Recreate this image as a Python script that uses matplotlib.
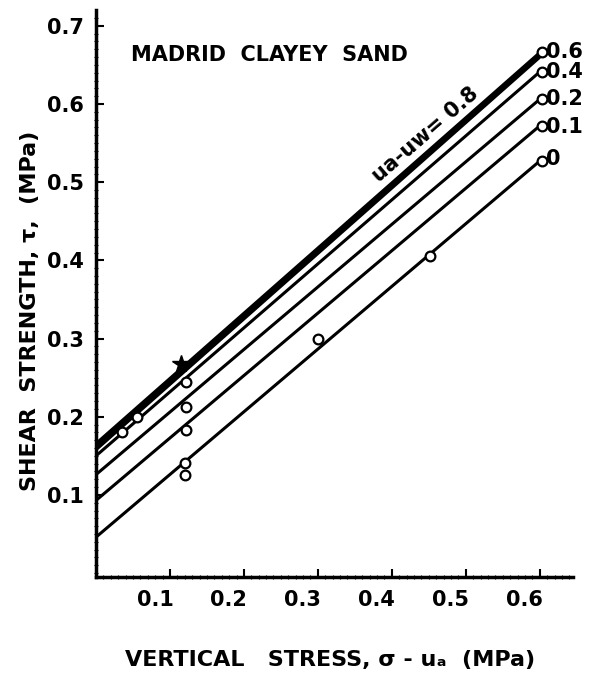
import matplotlib
matplotlib.use("Agg")
import matplotlib.pyplot as plt
import matplotlib.transforms as mtransforms
import numpy as np

plt.rcParams['font.family'] = ['DejaVu Sans']

# ---- data ----
suction_labels = ["0", "0.1", "0.2", "0.4", "0.6", "0.8"]
line_x = [0.0, 0.6]
line_start = [0.046, 0.093, 0.126, 0.150, 0.158, 0.164]
line_end = [0.527, 0.572, 0.606, 0.641, 0.660, 0.664]

pts_x_0 = [0.120, 0.120, 0.300, 0.452, 0.603]
pts_y_0 = [0.126, 0.141, 0.299, 0.405, 0.527]
pts_x_01 = [0.122, 0.603]
pts_y_01 = [0.183, 0.572]
pts_x_02 = [0.122, 0.603]
pts_y_02 = [0.213, 0.606]
pts_x_04 = [0.122, 0.603]
pts_y_04 = [0.245, 0.641]
pts_x_06 = [0.035, 0.055, 0.603]
pts_y_06 = [0.180, 0.200, 0.667]
pts_x_08 = [0.115]
pts_y_08 = [0.268]

right_labels = ["0.6", "0.4", "0.2", "0.1", "0"]
right_label_y = [0.667, 0.641, 0.606, 0.571, 0.530]

xticks = [0.1, 0.2, 0.3, 0.4, 0.5, 0.6]
xtick_labels = ["0.1", "0.2", "0.3", "0.4", "0.5", "0.6"]
yticks = [0.1, 0.2, 0.3, 0.4, 0.5, 0.6, 0.7]
ytick_labels = ["0.1", "0.2", "0.3", "0.4", "0.5", "0.6", "0.7"]

# ---- figure ----
fig = plt.figure(figsize=(6.0, 6.76), dpi=100)
ax = fig.add_axes([0.16, 0.1464, 0.795, 0.8386])

lws = [2.2, 2.2, 2.2, 2.2, 2.4, 3.6]
for i, lab in enumerate(suction_labels):
    ax.plot(line_x, [line_start[i], line_end[i]], color="black", lw=lws[i],
            solid_capstyle="butt", zorder=2)

mk = dict(marker="o", ms=7, mfc="white", mec="black", mew=1.6, ls="none", zorder=3)
for xs, ys in [(pts_x_0, pts_y_0), (pts_x_01, pts_y_01), (pts_x_02, pts_y_02),
               (pts_x_04, pts_y_04), (pts_x_06, pts_y_06)]:
    ax.plot(xs, ys, **mk)
ax.plot(pts_x_08, pts_y_08, marker="*", ms=13, color="black", ls="none", zorder=3)

for lab, y in zip(right_labels, right_label_y):
    ax.text(0.609, y, lab, fontsize=15, fontweight="bold", ha="left", va="center",
            clip_on=False)

ax.text(0.048, 0.662, "MADRID  CLAYEY  SAND", fontsize=15, fontweight="bold",
        ha="left", va="center")
ax.text(0.445, 0.561, "ua-uw= 0.8", fontsize=15, fontweight="bold",
        rotation=41, ha="center", va="center", rotation_mode="anchor")

ax.set_xlim(0.0, 0.645)
ax.set_ylim(-0.005, 0.72)

ax.set_xticks(xticks)
ax.set_xticklabels(xtick_labels, fontsize=15, fontweight="bold")
ax.set_yticks(yticks)
ax.set_yticklabels(ytick_labels, fontsize=15, fontweight="bold")
ax.set_xticks(np.arange(0.01, 0.645, 0.01), minor=True)
ax.set_yticks(np.arange(0.0, 0.72, 0.01), minor=True)
ax.tick_params(axis="both", which="major", direction="in", length=6, width=1.5, pad=9)
ax.tick_params(axis="both", which="minor", direction="inout", length=3, width=0.8)

offset = mtransforms.ScaledTranslation(-0.15, 0, fig.dpi_scale_trans)
for lbl in ax.get_xticklabels():
    lbl.set_transform(lbl.get_transform() + offset)

for side in ["top", "right"]:
    ax.spines[side].set_visible(False)
for side in ["left", "bottom"]:
    ax.spines[side].set_linewidth(2.5)

ax.set_ylabel("SHEAR  STRENGTH, τ,  (MPa)", fontsize=16, fontweight="bold")
ax.yaxis.set_label_coords(-0.117, 0.47)
ax.set_xlabel("VERTICAL   STRESS, σ - uₐ  (MPa)", fontsize=16, fontweight="bold")
ax.xaxis.set_label_coords(0.49, -0.128)

fig.savefig("out.png", dpi=100)
